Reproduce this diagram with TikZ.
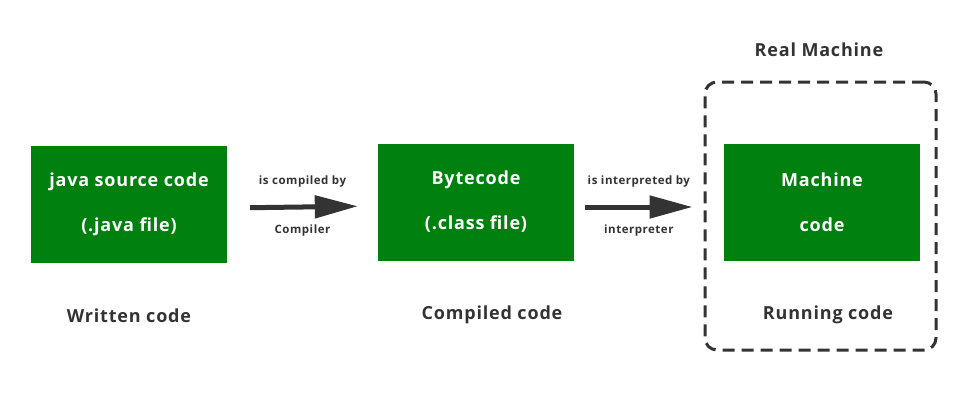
\documentclass[tikz,border=0pt]{standalone}
\usepackage{fontspec}
\setmainfont{Open Sans}[LetterSpace=4.5]
\usetikzlibrary{arrows.meta,positioning}
\definecolor{boxgreen}{RGB}{0,128,14}
\definecolor{ink}{RGB}{51,51,51}
\tikzset{
  frame/.style={
    rectangle, fill=boxgreen, text=white,
    minimum width=196pt, minimum height=117pt,
    align=center, font=\fontsize{18}{45}\selectfont\bfseries,
  },
  caption/.style={
    text=ink, font=\fontsize{18}{21}\selectfont\bfseries,
  },
  small/.style={
    text=ink, font=\fontsize{11.5}{13}\selectfont\bfseries,
  },
  line/.style={
    draw=ink, line width=5pt, -{Triangle[length=43pt,width=22pt]},
  }
}
\begin{document}
\begin{tikzpicture}[x=1pt,y=-1pt]
\useasboundingbox (0,0) rectangle (977,400);
\node [frame] (src) at (129,204) {java source code\\(.java file)};
\node [frame] (bc) at (476,202) {Bytecode\\(.class file)};
\node [frame] (mc) at (822,202) {Machine\\code};
\node [draw=ink, line width=3pt, dash pattern=on 12pt off 7pt, rounded corners=12pt,
  minimum width=231pt, minimum height=268pt] (rm) at (820.5,216) {};
\node [caption] (wc) at (129,316) {Written code};
\node [caption] (cc) at (492,315) {Compiled code};
\node [caption] (rc) at (828,315) {Running code};
\node [caption] (rml) at (819,50) {Real Machine};
% arrows
\path [line, shorten <=23pt, shorten >=20pt] ([yshift=-4pt]src.east) -- ([yshift=-4pt]bc.west)
  node [small, midway, above=14pt] {is compiled by}
  node [small, midway, below=12pt] {Compiler};
\path [line, shorten <=11pt, shorten >=11pt] ([yshift=-5pt]bc.east) -- ([yshift=-5pt]bc.east -| rm.west)
  node [small, midway, above=14pt] {is interpreted by}
  node [small, midway, below=12pt] {interpreter};
\end{tikzpicture}
\end{document}
